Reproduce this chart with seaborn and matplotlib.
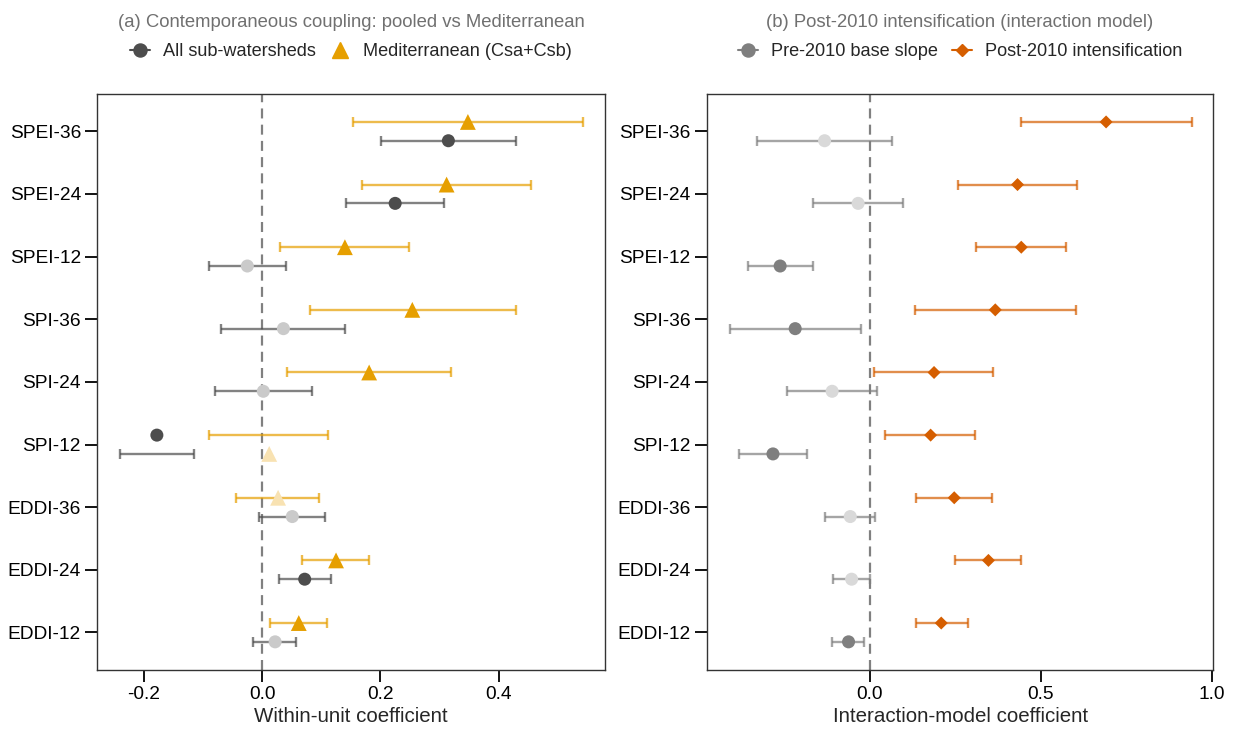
import numpy as np
import pandas as pd
import seaborn as sns
import matplotlib.pyplot as plt
from matplotlib.lines import Line2D

# drought indices, top to bottom
indices = ["SPEI-36", "SPEI-24", "SPEI-12", "SPI-36", "SPI-24", "SPI-12",
           "EDDI-36", "EDDI-24", "EDDI-12"]

# (a) pooled vs Mediterranean
all_est = [0.315, 0.225, -0.025, 0.036, 0.002, -0.178, 0.051, 0.072, 0.022]
all_lo = [0.201, 0.142, -0.090, -0.069, -0.080, -0.240, -0.005, 0.028, -0.016]
all_hi = [0.430, 0.308, 0.041, 0.141, 0.085, -0.115, 0.107, 0.116, 0.058]
med_est = [0.348, 0.312, 0.140, 0.254, 0.181, 0.012, 0.027, 0.125, 0.062]
med_lo = [0.154, 0.169, 0.031, 0.081, 0.042, -0.089, -0.045, 0.067, 0.013]
med_hi = [0.542, 0.455, 0.249, 0.429, 0.319, 0.112, 0.097, 0.181, 0.110]

# (b) interaction model
pre_est = [-0.132, -0.034, -0.262, -0.218, -0.110, -0.283, -0.057, -0.053, -0.062]
pre_lo = [-0.329, -0.167, -0.357, -0.409, -0.243, -0.381, -0.130, -0.108, -0.110]
pre_hi = [0.066, 0.098, -0.167, -0.025, 0.021, -0.184, 0.016, 0.002, -0.016]
post_est = [0.691, 0.432, 0.443, 0.367, 0.188, 0.178, 0.247, 0.347, 0.209]
post_lo = [0.442, 0.257, 0.312, 0.133, 0.013, 0.046, 0.135, 0.250, 0.134]
post_hi = [0.942, 0.606, 0.575, 0.604, 0.361, 0.309, 0.357, 0.442, 0.287]

# in panel (a) the SPI-12 points sit on the other row than their bars
swapped_a = ["SPI-12"]

sns.set_style("ticks")
plt.rcParams["font.family"] = ["Liberation Sans", "DejaVu Sans"]
plt.rcParams["axes.unicode_minus"] = False


def make_df(est, lo, hi, offset, swapped=()):
    df = pd.DataFrame({"index": indices, "est": est, "lo": lo, "hi": hi})
    base = len(indices) - 1 - np.arange(len(indices))
    df["y_bar"] = base + offset
    flip = df["index"].isin(swapped).to_numpy()
    df["y_pt"] = base + np.where(flip, -offset, offset)
    # significant if CI doesn't cross zero
    df["sig"] = np.where((df["lo"] > 0) | (df["hi"] < 0), "sig", "ns")
    return df


def draw(ax, df, color, faded, marker, size):
    ax.errorbar(df["est"], df["y_bar"],
                xerr=[df["est"] - df["lo"], df["hi"] - df["est"]],
                fmt="none", ecolor=color, alpha=0.7, elinewidth=1.7,
                capsize=3.5, capthick=1.7, zorder=2)
    sns.scatterplot(data=df, x="est", y="y_pt", hue="sig",
                    palette={"sig": color, "ns": faded}, marker=marker,
                    s=size, linewidth=0, legend=False, ax=ax, zorder=3)


def style_axes(ax, xlim, xticks, xlabels, xlabel, title, handles):
    ax.axvline(0, color="#808080", ls=(0, (4.5, 2.8)), lw=1.6, zorder=1)
    ax.set_xlim(*xlim)
    ax.set_ylim(-0.6, len(indices) - 0.4)
    ax.set_xticks(xticks)
    ax.set_xticklabels(xlabels)
    ax.set_yticks(range(len(indices)))
    ax.set_yticklabels(indices[::-1])
    ax.set_xlabel(xlabel, fontsize=14.8, labelpad=3)
    ax.set_ylabel("")
    ax.tick_params(direction="out", length=8.5, width=1.3, color="black",
                   labelsize=13.8, labelcolor="black", pad=3)
    for sp in ax.spines.values():
        sp.set_visible(True)
        sp.set_color("#333333")
        sp.set_linewidth(1.0)
    ax.text(0.5, 1.1245, title, transform=ax.transAxes, ha="center",
            va="center", color="#707070", fontsize=13.3)
    ax.legend(handles=handles, loc="center", bbox_to_anchor=(0.5, 1.0725),
              ncol=2, frameon=False, fontsize=13.1, handlelength=1.1,
              handletextpad=0.7, columnspacing=0.8)


fig = plt.figure(figsize=(12.36, 7.29), dpi=100)
ax1 = fig.add_axes([0.0785, 0.0809, 0.4110, 0.7905])
ax2 = fig.add_axes([0.5718, 0.0809, 0.4099, 0.7905])

# --- (a)
df_all = make_df(all_est, all_lo, all_hi, -0.15, swapped_a)
df_med = make_df(med_est, med_lo, med_hi, 0.15, swapped_a)
draw(ax1, df_all, "#4D4D4D", "#CACACA", "o", 88)
draw(ax1, df_med, "#E69F00", "#F8E2B2", "^", 130)
h_a = [Line2D([0], [0], color="#4D4D4D", marker="o", markersize=9.4, lw=1.5,
              label="All sub-watersheds"),
       Line2D([0], [0], color="#E69F00", marker="^", markersize=11.5, lw=0,
              label="Mediterranean (Csa+Csb)")]
style_axes(ax1, (-0.2792, 0.5799), [-0.2, 0.0, 0.2, 0.4],
           ["-0.2", "0.0", "0.2", "0.4"], "Within-unit coefficient",
           "(a) Contemporaneous coupling: pooled vs Mediterranean", h_a)

# --- (b)
df_pre = make_df(pre_est, pre_lo, pre_hi, -0.15)
df_post = make_df(post_est, post_lo, post_hi, 0.15)
draw(ax2, df_pre, "#7F7F7F", "#D9D9D9", "o", 88)
draw(ax2, df_post, "#D55E00", "#F2CFB2", "D", 44)
h_b = [Line2D([0], [0], color="#7F7F7F", marker="o", markersize=9.4, lw=1.5,
              label="Pre-2010 base slope"),
       Line2D([0], [0], color="#D55E00", marker="D", markersize=6.6, lw=1.5,
              label="Post-2010 intensification")]
style_axes(ax2, (-0.4766, 1.0047), [0.0, 0.5, 1.0], ["0.0", "0.5", "1.0"],
           "Interaction-model coefficient",
           "(b) Post-2010 intensification (interaction model)", h_b)

fig.savefig("out.png", dpi=100)
plt.close(fig)
